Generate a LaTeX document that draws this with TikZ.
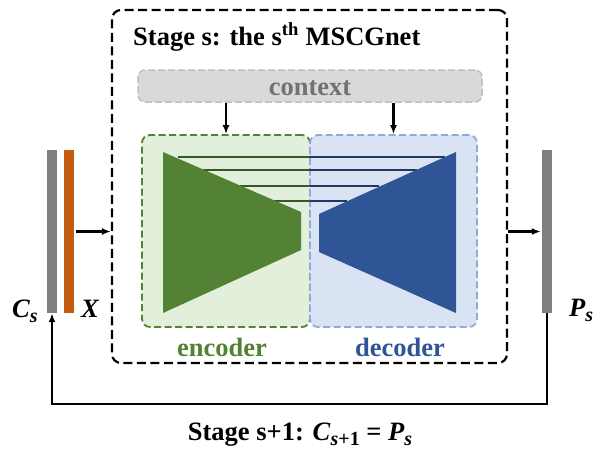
\documentclass[tikz,border=0pt]{standalone}
\usepackage{fontspec}
\setmainfont{Liberation Serif}
\usetikzlibrary{arrows.meta,calc}

\definecolor{barGray}{HTML}{7F7F7F}
\definecolor{barOrange}{HTML}{C55A11}
\definecolor{encGreen}{HTML}{548235}
\definecolor{encFill}{HTML}{E2EFDA}
\definecolor{encLine}{HTML}{385723}
\definecolor{decBlue}{HTML}{2F5597}
\definecolor{decFill}{HTML}{DAE3F3}
\definecolor{decBorder}{HTML}{8FAADC}
\definecolor{decLine}{HTML}{203864}
\definecolor{ctxFill}{HTML}{D9D9D9}
\definecolor{ctxBorder}{HTML}{BFBFBF}
\definecolor{ctxText}{HTML}{767171}

% subscript in the bold italic labels
\newcommand{\lblsub}[1]{\raisebox{-0.22em}{\fontsize{20}{20}\selectfont #1}}

\begin{document}
\begin{tikzpicture}[x=1pt,y=-1pt,
  bigtext/.style={font=\fontsize{26.5}{31}\selectfont\bfseries, inner sep=0},
  mathlbl/.style={font=\fontsize{26.5}{31}\selectfont\bfseries\itshape, inner sep=0},
  arr/.style={line width=2.2pt, -{Latex[length=9pt,width=7pt]}},
  bar/.style={minimum width=10pt, minimum height=163pt, inner sep=0, draw=none},
  skipline/.style={line width=2.8pt},
]
\useasboundingbox (0,0) rectangle (608,451);

% outer stage frame
\node[draw, dash pattern=on 9pt off 4.5pt, line width=2.2pt, rounded corners=9pt,
      minimum width=395pt, minimum height=353pt, inner sep=0] (outer) at (309.5,186.5) {};
\node[bigtext, anchor=base west] (title) at (133,45) {Stage s: the s\textsuperscript{th} MSCGnet};

% context block
\node[draw=ctxBorder, fill=ctxFill, dash pattern=on 7pt off 3pt, line width=1.5pt,
      rounded corners=7pt, minimum width=344pt, minimum height=32pt, inner sep=0] (ctx) at (310,86) {};
\node[bigtext, text=ctxText, anchor=base] (ctxlbl) at (310,95) {context};

% encoder / decoder regions
\node[draw=encGreen, fill=encFill, dash pattern=on 7pt off 3.5pt, line width=1.8pt,
      rounded corners=8pt, minimum width=168pt, minimum height=192pt, inner sep=0] (encbox) at (226,231) {};
\node[draw=decBorder, fill=decFill, dash pattern=on 7pt off 3.5pt, line width=1.8pt,
      rounded corners=8pt, minimum width=167pt, minimum height=192pt, inner sep=0] (decbox) at (393.5,231) {};

% context feeds both halves
\draw[arr] (ctx.south -| encbox.north) -- (encbox.north);
\draw[arr] (ctx.south -| decbox.north) -- (decbox.north);

% skip connections between encoder and decoder
\coordinate (mid1) at (310,157); \coordinate (e1) at (178,157); \coordinate (d1) at (445,157);
\coordinate (mid2) at (310,170); \coordinate (e2) at (203,170); \coordinate (d2) at (417,170);
\coordinate (mid3) at (310,186); \coordinate (e3) at (240,186); \coordinate (d3) at (379,186);
\coordinate (mid4) at (310,201); \coordinate (e4) at (273,201); \coordinate (d4) at (347,201);
\foreach \i in {1,2,3,4}{
  \draw[skipline, encLine] (e\i) -- (mid\i);
  \draw[skipline, decLine] (mid\i) -- (d\i);
}

% encoder and decoder bodies
\fill[encGreen] (163,152) -- (301,212) -- (301,250) -- (163,313) -- cycle;
\fill[decBlue] (456,152) -- (319,214) -- (319,252) -- (456,313) -- cycle;

\node[bigtext, text=encGreen, anchor=base] (enclbl) at (222,356) {encoder};
\node[bigtext, text=decBlue, anchor=base] (declbl) at (400,356) {decoder};

% inputs and output
\node[bar, fill=barGray] (cs) at (52,231.5) {};
\node[bar, fill=barOrange] (xb) at (69,231.5) {};
\node[bar, fill=barGray] (ps) at (547,231.5) {};

\node[mathlbl, anchor=base west] (cslbl) at (12,317) {C\lblsub{s}};
\node[mathlbl, anchor=base west] (xlbl) at (81,317) {X};
\node[mathlbl, anchor=base west] (pslbl) at (569,316) {P\lblsub{s}};

\draw[arr] ([xshift=2pt]xb.east) -- (xb.east -| outer.west);
\draw[arr] (outer.east |- ps.west) -- ([xshift=-1pt]ps.west);

% feedback to the next stage
\coordinate (fbr) at (547,404);
\coordinate (fbl) at (52,404);
\draw[arr] (ps.south) -- (fbr) -- (fbl) -- (cs.south);

\node[bigtext, anchor=base] (next) at (300,440)
  {Stage s+1: \textit{C}\lblsub{\textit{s}+1} = \textit{P\lblsub{s}}};
\end{tikzpicture}
\end{document}
